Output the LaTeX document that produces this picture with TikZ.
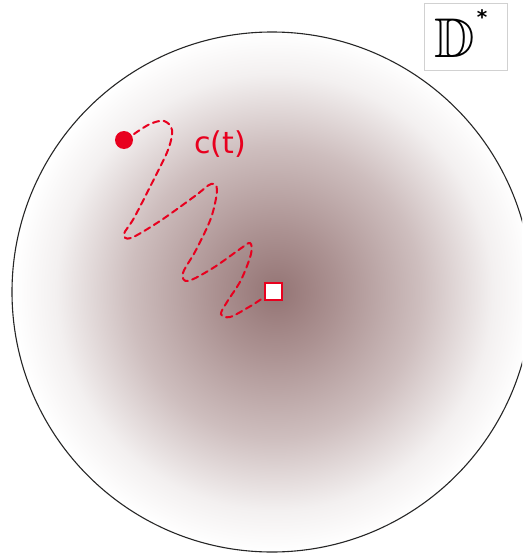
\documentclass[tikz,border=0pt]{standalone}
\usepackage{amssymb}
\usepackage{fontspec}
\newfontfamily\labelfont{DejaVu Sans}
\definecolor{curvered}{RGB}{232,0,30}
\definecolor{c0}{RGB}{148,116,116}
\definecolor{c1}{RGB}{172,146,146}
\definecolor{c2}{RGB}{206,190,190}
\definecolor{c3}{RGB}{243,240,240}
\pgfdeclareradialshading{diskshade}{\pgfpoint{0.4bp}{0bp}}{color(0bp)=(c0); color(6bp)=(c1); color(14bp)=(c2); color(21bp)=(c3); color(25bp)=(white); color(50bp)=(white)}
\tikzset{
  curve/.style={curvered, line width=2pt, dash pattern=on 6.5pt off 4.5pt, line cap=round},
  startdot/.style={circle, fill=curvered, inner sep=0pt, minimum size=18pt},
  endsq/.style={rectangle, draw=curvered, fill=white, line width=2pt, inner sep=0pt, minimum size=17pt},
  insetbox/.style={draw=black!18, line width=0.6pt}
}
\begin{document}
\begin{tikzpicture}[x=1pt,y=-1pt]
\useasboundingbox (0,0) rectangle (522,554);
\fill[white] (0,0) rectangle (522,554);
\begin{scope}
\clip (0,0) rectangle (522,554);
\shade[shading=diskshade] (272,292) circle[radius=260];
\draw[black!85, line width=1.1pt] (272,292) circle[radius=260];
\end{scope}
% inset
\draw[insetbox] (424,3) rectangle (507,70);
\node[inner sep=0pt] (dd) at (455,38) {\fontsize{56}{56}\selectfont$\mathbb{D}$};
\node[inner sep=0pt] (star) at (482,17) {\labelfont\bfseries\fontsize{20}{20}\selectfont *};
% curve
\node[startdot] (s) at (124,140) {};
\node[endsq] (e) at (273,291.5) {};
\draw[curve] plot[smooth, tension=0.55] coordinates {(134,134) (150,124) (164,121) (172,130) (168,150) (152,183) (134,218) (124,234) (131,238) (160,221) (195,196) (211,184) (217,190) (211,218) (196,250) (183,273) (188,281) (213,268) (240,249) (250,243) (251,254) (241,280) (227,302) (221,314) (230,317) (249,307) (263,298)};
\node[text=curvered, inner sep=0pt] (ct) at (220,144) {\labelfont\fontsize{30}{30}\selectfont c(t)};
\end{tikzpicture}
\end{document}
